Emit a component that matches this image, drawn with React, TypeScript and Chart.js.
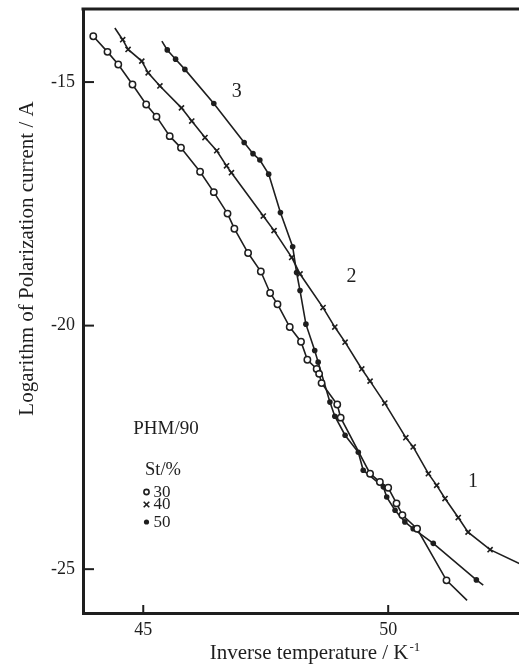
import React, { useEffect, useRef } from "react";
import { Chart, registerables } from "chart.js";

Chart.register(...registerables);

// Axis ranges and ticks
const xTicks = [45, 50];
const yTicks = [-25, -20, -15];
const xMin = 43.77;
const xMax = 52.67;
const yMin = -25.9;
const yMax = -13.5;

// St 30 % (open circles)
const st30X = [43.98, 44.27, 44.49, 44.78, 45.06, 45.27, 45.54, 45.77, 46.16, 46.44, 46.72, 46.86, 47.14, 47.40, 47.59, 47.74, 47.99, 48.22, 48.35, 48.54, 48.59, 48.64, 48.96, 49.03, 49.63, 49.83, 50.0, 50.17, 50.29, 50.59, 51.19];
const st30Y = [-14.06, -14.38, -14.64, -15.05, -15.46, -15.71, -16.11, -16.35, -16.84, -17.26, -17.7, -18.01, -18.51, -18.89, -19.33, -19.56, -20.03, -20.33, -20.7, -20.89, -20.99, -21.18, -21.62, -21.89, -23.04, -23.21, -23.33, -23.65, -23.89, -24.17, -25.23];
const st30TailX = [51.61];
const st30TailY = [-25.64];

// St 40 % (crosses)
const st40HeadX = [44.42];
const st40HeadY = [-13.89];
const st40X = [44.58, 44.69, 44.97, 45.1, 45.34, 45.78, 45.99, 46.26, 46.5, 46.7, 46.8, 47.45, 47.67, 48.03, 48.2, 48.67, 48.91, 49.12, 49.46, 49.63, 49.93, 50.36, 50.51, 50.82, 50.99, 51.16, 51.43, 51.63, 52.08];
const st40Y = [-14.13, -14.33, -14.57, -14.81, -15.08, -15.53, -15.8, -16.14, -16.41, -16.72, -16.86, -17.75, -18.05, -18.6, -18.94, -19.63, -20.03, -20.34, -20.89, -21.14, -21.59, -22.3, -22.49, -23.04, -23.28, -23.55, -23.94, -24.24, -24.6];
const st40TailX = [53.0];
const st40TailY = [-25.04];

// St 50 % (filled dots)
const st50HeadX = [45.38];
const st50HeadY = [-14.16];
const st50X = [45.49, 45.66, 45.85, 46.44, 47.06, 47.24, 47.38, 47.56, 47.8, 48.05, 48.13, 48.2, 48.32, 48.5, 48.57, 48.81, 48.91, 49.12, 49.39, 49.49, 49.9, 49.97, 50.14, 50.34, 50.51, 50.92, 51.8];
const st50Y = [-14.34, -14.53, -14.74, -15.44, -16.24, -16.47, -16.6, -16.89, -17.68, -18.38, -18.91, -19.28, -19.97, -20.51, -20.75, -21.57, -21.86, -22.25, -22.6, -22.97, -23.31, -23.52, -23.79, -24.03, -24.17, -24.47, -25.22];
const st50TailX = [51.94];
const st50TailY = [-25.33];

// Curve labels
const curveLabels = ["1", "2", "3"];
const curveLabelX = [51.73, 49.25, 46.91];
const curveLabelY = [-23.21, -19.0, -15.2];

// Legend texts
const legendTitle = "PHM/90";
const legendSub = "St/%";
const legendItems = ["30", "40", "50"];

const xTitle = "Inverse temperature / K";
const xTitleSup = "-1";
const yTitle = "Logarithm of Polarization current / A";

const INK = "#1e1e1e";
const SERIF = "'Liberation Serif', 'Times New Roman', serif";

function pts(xs: number[], ys: number[]) {
  return xs.map((x, i) => ({ x, y: ys[i] }));
}

function markerRadius(headLen: number, n: number, r: number) {
  return (ctx: any) => (ctx.dataIndex < headLen || ctx.dataIndex >= headLen + n ? 0 : r);
}

function zeroPadding(s: any) {
  s.paddingTop = 0;
  s.paddingBottom = 0;
  s.paddingLeft = 0;
  s.paddingRight = 0;
}

const overlayPlugin = {
  id: "overlay",
  afterDraw(chart: any) {
    const { ctx, chartArea, scales } = chart;
    const xs = scales.x;
    const ys = scales.y;
    ctx.save();
    ctx.strokeStyle = INK;
    ctx.fillStyle = INK;
    ctx.lineCap = "butt";

    // top frame line
    ctx.lineWidth = 3;
    ctx.beginPath();
    ctx.moveTo(chartArea.left - 1.5, chartArea.top);
    ctx.lineTo(chartArea.right, chartArea.top);
    ctx.stroke();

    // inward ticks
    ctx.lineWidth = 2;
    yTicks.forEach((v) => {
      const py = ys.getPixelForValue(v);
      ctx.beginPath();
      ctx.moveTo(chartArea.left, py);
      ctx.lineTo(chartArea.left + 11, py);
      ctx.stroke();
    });
    xTicks.forEach((v) => {
      const px = xs.getPixelForValue(v);
      ctx.beginPath();
      ctx.moveTo(px, chartArea.bottom);
      ctx.lineTo(px, chartArea.bottom - 8);
      ctx.stroke();
    });

    // curve labels
    ctx.font = `20px ${SERIF}`;
    ctx.textAlign = "center";
    ctx.textBaseline = "middle";
    curveLabels.forEach((t, i) => {
      ctx.fillText(t, xs.getPixelForValue(curveLabelX[i]), ys.getPixelForValue(curveLabelY[i]));
    });

    // legend block
    ctx.textAlign = "center";
    ctx.textBaseline = "alphabetic";
    ctx.font = `19px ${SERIF}`;
    ctx.fillText(legendTitle, 166, 433.5);
    ctx.textAlign = "left";
    ctx.font = `18.5px ${SERIF}`;
    ctx.fillText(legendSub, 145, 475);
    ctx.font = `17px ${SERIF}`;
    const rowY = [492, 504.5, 522];
    legendItems.forEach((t, i) => {
      ctx.textBaseline = "middle";
      ctx.fillText(t, 153.5, rowY[i] + 0.5);
    });
    // legend markers
    const mx = 146.5;
    ctx.lineWidth = 1.6;
    ctx.beginPath();
    ctx.arc(mx, rowY[0], 2.6, 0, Math.PI * 2);
    ctx.stroke();
    ctx.beginPath();
    ctx.moveTo(mx - 2.8, rowY[1] - 2.8);
    ctx.lineTo(mx + 2.8, rowY[1] + 2.8);
    ctx.moveTo(mx + 2.8, rowY[1] - 2.8);
    ctx.lineTo(mx - 2.8, rowY[1] + 2.8);
    ctx.stroke();
    ctx.beginPath();
    ctx.arc(mx, rowY[2], 2.6, 0, Math.PI * 2);
    ctx.fill();

    // axis titles
    ctx.textBaseline = "alphabetic";
    ctx.font = `21px ${SERIF}`;
    const mainW = ctx.measureText(xTitle).width;
    ctx.font = `13px ${SERIF}`;
    const supW = ctx.measureText(xTitleSup).width;
    const totalW = mainW + supW + 1;
    const cx = 315;
    const startX = cx - totalW / 2;
    ctx.textAlign = "left";
    ctx.font = `21px ${SERIF}`;
    ctx.fillText(xTitle, startX, 659);
    ctx.font = `13px ${SERIF}`;
    ctx.fillText(xTitleSup, startX + mainW + 1, 651);

    ctx.save();
    ctx.translate(27, 258.5);
    ctx.rotate(-Math.PI / 2);
    ctx.font = `21px ${SERIF}`;
    ctx.textAlign = "center";
    ctx.textBaseline = "middle";
    ctx.fillText(yTitle, 0, 0);
    ctx.restore();

    ctx.restore();
  },
};

export default function App() {
  const canvasRef = useRef<HTMLCanvasElement | null>(null);

  useEffect(() => {
    const canvas = canvasRef.current;
    if (!canvas) return;

    const lineBase = {
      showLine: true,
      borderColor: INK,
      borderWidth: 1.6,
      pointBorderColor: INK,
      tension: 0,
    };

    const d30 = pts([...st30X, ...st30TailX], [...st30Y, ...st30TailY]);
    const d40 = pts([...st40HeadX, ...st40X, ...st40TailX], [...st40HeadY, ...st40Y, ...st40TailY]);
    const d50 = pts([...st50HeadX, ...st50X, ...st50TailX], [...st50HeadY, ...st50Y, ...st50TailY]);

    const chart = new Chart(canvas, {
      type: "scatter",
      data: {
        datasets: [
          {
            ...lineBase,
            label: "30",
            data: d30,
            pointStyle: "circle",
            pointRadius: markerRadius(0, st30X.length, 3.2),
            pointBorderWidth: 1.5,
            pointBackgroundColor: "#ffffff",
          },
          {
            ...lineBase,
            label: "40",
            data: d40,
            pointStyle: "crossRot",
            pointRadius: markerRadius(1, st40X.length, 3.6),
            pointBorderWidth: 1.6,
            pointBackgroundColor: INK,
          },
          {
            ...lineBase,
            label: "50",
            data: d50,
            pointStyle: "circle",
            pointRadius: markerRadius(1, st50X.length, 2.8),
            pointBorderWidth: 0,
            pointBackgroundColor: INK,
          },
        ],
      },
      options: {
        animation: false,
        responsive: false,
        maintainAspectRatio: false,
        events: [],
        layout: { autoPadding: false, padding: { top: 9, left: 0, right: 0, bottom: 0 } },
        plugins: {
          legend: { display: false },
          tooltip: { enabled: false },
          title: { display: false },
        },
        scales: {
          x: {
            type: "linear",
            min: xMin,
            max: xMax,
            afterBuildTicks: (s: any) => {
              s.ticks = xTicks.map((v) => ({ value: v }));
            },
            afterFit: (s: any) => {
              s.height = 53;
              zeroPadding(s);
            },
            grid: { display: false, drawTicks: false },
            border: { display: true, width: 3, color: INK },
            ticks: {
              color: INK,
              font: { family: SERIF, size: 18 },
              padding: 6,
              maxRotation: 0,
              autoSkip: false,
            },
          },
          y: {
            type: "linear",
            min: yMin,
            max: yMax,
            afterBuildTicks: (s: any) => {
              s.ticks = yTicks.map((v) => ({ value: v }));
            },
            afterFit: (s: any) => {
              s.width = 83;
              zeroPadding(s);
            },
            grid: { display: false, drawTicks: false },
            border: { display: true, width: 3, color: INK },
            ticks: {
              color: INK,
              font: { family: SERIF, size: 18 },
              padding: 8,
              autoSkip: false,
            },
          },
        },
      },
      plugins: [overlayPlugin],
    });

    return () => chart.destroy();
  }, []);

  return (
    <div style={{ position: "fixed", left: 0, top: 0, width: 519, height: 666, background: "#fff" }}>
      <canvas ref={canvasRef} width={519} height={666} style={{ display: "block", width: 519, height: 666 }} />
    </div>
  );
}
